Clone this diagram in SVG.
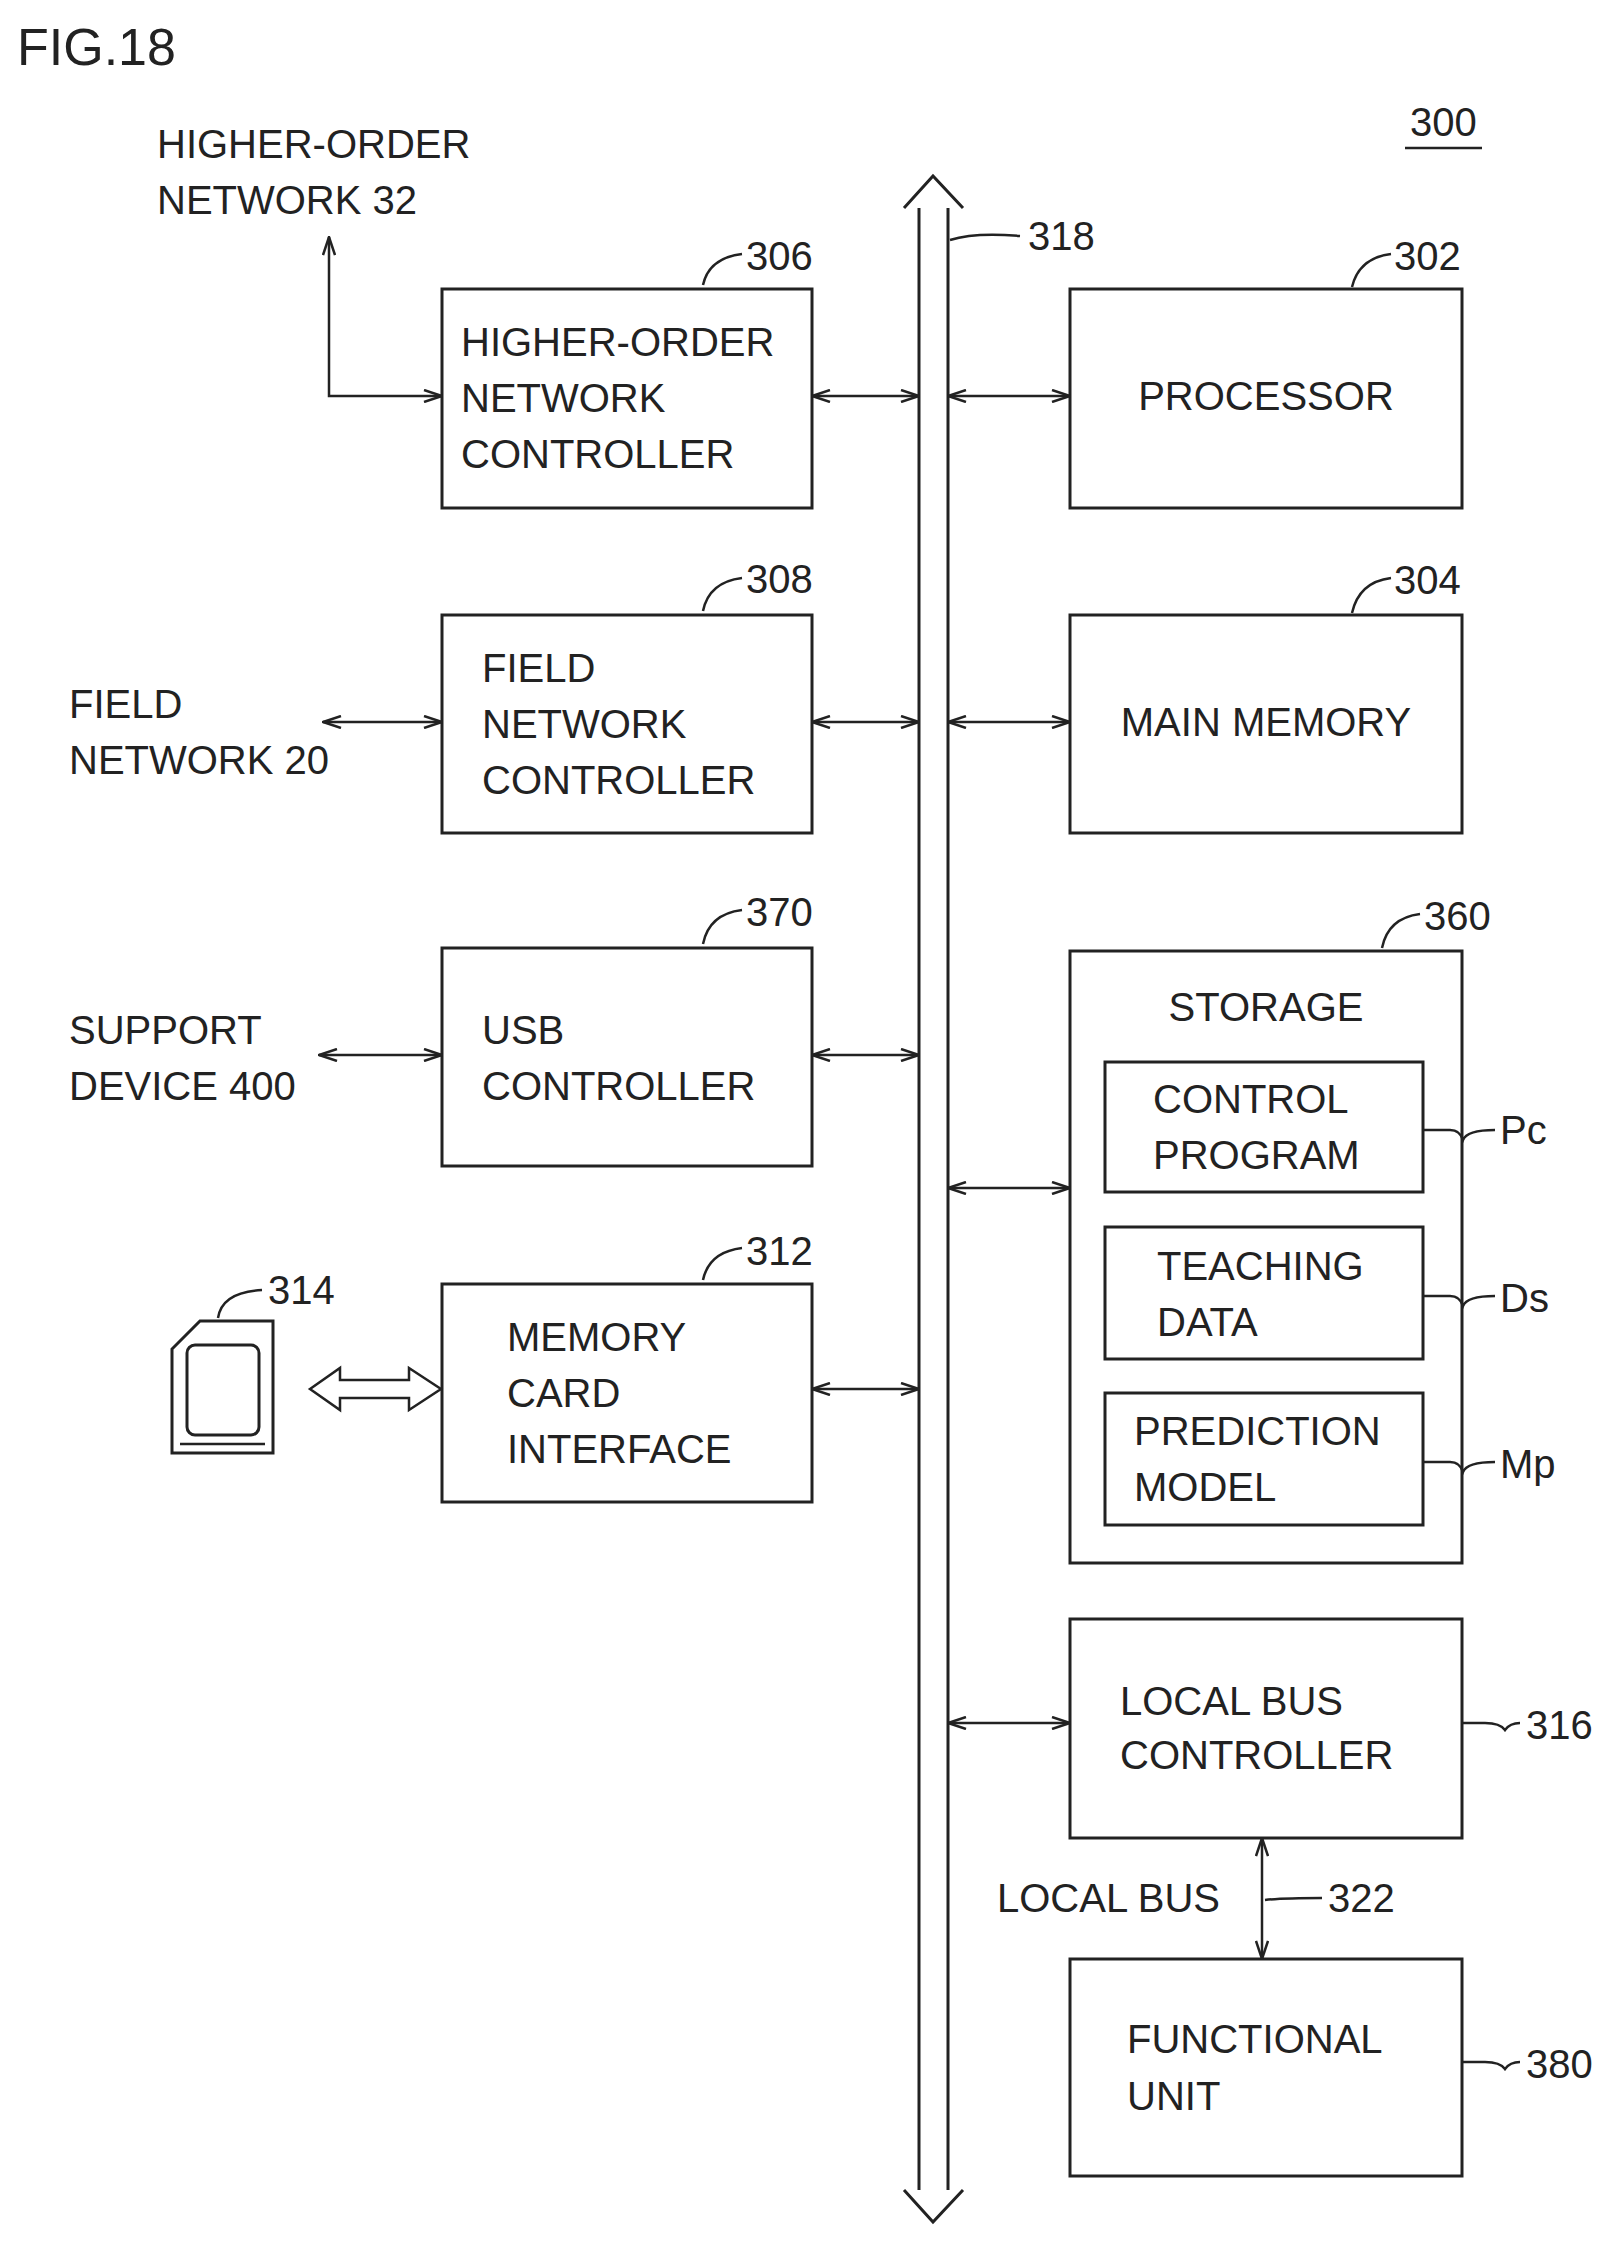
<svg xmlns="http://www.w3.org/2000/svg" width="1623" height="2268" viewBox="0 0 1623 2268">
<style>
text{font-family:"Liberation Sans",Arial,sans-serif;font-size:40px;fill:#222}
.b{fill:none;stroke:#222;stroke-width:3}
.l{fill:none;stroke:#222;stroke-width:2.5}
.m{text-anchor:middle}
</style>
<defs>
<marker id="a" viewBox="0 0 20 14" refX="19" refY="7" markerWidth="20" markerHeight="14" markerUnits="userSpaceOnUse" orient="auto-start-reverse">
<path d="M1,1 L19,7 L1,13" fill="none" stroke="#222" stroke-width="2.5"/>
</marker>
</defs>
<rect width="1623" height="2268" fill="#fff"/>
<text x="17" y="65" style="font-size:52px">FIG.18</text>
<text x="1410" y="136">300</text>
<line x1="1405" y1="148" x2="1482" y2="148" class="l"/>

<g id="bus">
<path class="b" d="M919,208 L919,2190 M948,208 L948,2190 M904,208 L933,176 L963,208 M904,2190 L933,2222 L963,2190"/>
<path class="l" d="M950,240 Q975,232 1020,236"/>
<text x="1028" y="250">318</text>
</g>

<g id="n306"><rect class="b" x="442" y="289" width="370" height="219"/>
<text x="461" y="356">HIGHER-ORDER</text><text x="461" y="412">NETWORK</text><text x="461" y="468">CONTROLLER</text>
<path class="l" d="M703,285 Q709,258 742,254"/><text x="746" y="270">306</text></g>
<g id="n302"><rect class="b" x="1070" y="289" width="392" height="219"/>
<text class="m" x="1266" y="410">PROCESSOR</text>
<path class="l" d="M1352,287 Q1359,258 1391,254"/><text x="1394" y="270">302</text></g>
<g id="n308"><rect class="b" x="442" y="615" width="370" height="218"/>
<text x="482" y="682">FIELD</text><text x="482" y="738">NETWORK</text><text x="482" y="794">CONTROLLER</text>
<path class="l" d="M703,611 Q709,582 742,578"/><text x="746" y="593">308</text></g>
<g id="n304"><rect class="b" x="1070" y="615" width="392" height="218"/>
<text class="m" x="1266" y="736">MAIN MEMORY</text>
<path class="l" d="M1352,613 Q1359,582 1391,578"/><text x="1394" y="594">304</text></g>
<g id="n370"><rect class="b" x="442" y="948" width="370" height="218"/>
<text x="482" y="1044">USB</text><text x="482" y="1100">CONTROLLER</text>
<path class="l" d="M703,944 Q709,914 742,910"/><text x="746" y="926">370</text></g>
<g id="n360"><rect class="b" x="1070" y="951" width="392" height="612"/>
<text class="m" x="1266" y="1021">STORAGE</text>
<rect class="b" x="1105" y="1062" width="318" height="130"/><text x="1153" y="1113">CONTROL</text><text x="1153" y="1169">PROGRAM</text>
<rect class="b" x="1105" y="1227" width="318" height="132"/><text x="1157" y="1280">TEACHING</text><text x="1157" y="1336">DATA</text>
<rect class="b" x="1105" y="1393" width="318" height="132"/><text x="1134" y="1445">PREDICTION</text><text x="1134" y="1501">MODEL</text>
<path class="l" d="M1423,1130 L1450,1130 Q1460,1130 1463,1140 Q1467,1130 1495,1130"/><text x="1500" y="1144">Pc</text>
<path class="l" d="M1423,1296 L1450,1296 Q1460,1296 1463,1306 Q1467,1296 1495,1296"/><text x="1500" y="1312">Ds</text>
<path class="l" d="M1423,1462 L1450,1462 Q1460,1462 1463,1472 Q1467,1462 1495,1462"/><text x="1500" y="1478">Mp</text>
<path class="l" d="M1382,948 Q1388,918 1420,914"/><text x="1424" y="930">360</text></g>
<g id="n312"><rect class="b" x="442" y="1284" width="370" height="218"/>
<text x="507" y="1351">MEMORY</text><text x="507" y="1407">CARD</text><text x="507" y="1463">INTERFACE</text>
<path class="l" d="M703,1280 Q709,1252 742,1248"/><text x="746" y="1265">312</text></g>
<g id="n314"><path class="b" d="M200,1321 L273,1321 L273,1453 L172,1453 L172,1349 Z"/>
<rect class="b" x="187" y="1345" width="72" height="90" rx="8"/>
<line class="l" x1="180" y1="1444" x2="265" y2="1444"/>
<path class="l" d="M218,1318 Q222,1292 262,1290"/><text x="268" y="1304">314</text></g>
<g id="n316"><rect class="b" x="1070" y="1619" width="392" height="219"/>
<text x="1120" y="1715">LOCAL BUS</text><text x="1120" y="1769">CONTROLLER</text>
<path class="l" d="M1462,1723 L1485,1723 Q1500,1723 1505,1730 Q1510,1723 1520,1723"/><text x="1526" y="1739">316</text></g>
<g id="n380"><rect class="b" x="1070" y="1959" width="392" height="217"/>
<text x="1127" y="2053">FUNCTIONAL</text><text x="1127" y="2110">UNIT</text>
<path class="l" d="M1462,2062 L1485,2062 Q1500,2062 1505,2069 Q1510,2062 1520,2062"/><text x="1526" y="2078">380</text></g>

<text x="157" y="158">HIGHER-ORDER</text><text x="157" y="214">NETWORK 32</text>
<text x="69" y="718">FIELD</text><text x="69" y="774">NETWORK 20</text>
<text x="69" y="1044">SUPPORT</text><text x="69" y="1100">DEVICE 400</text>
<text x="997" y="1912">LOCAL BUS</text>
<text x="1328" y="1912">322</text>

<g id="connectors">
<line class="l" x1="812" y1="396" x2="919" y2="396" marker-start="url(#a)" marker-end="url(#a)"/>
<line class="l" x1="948" y1="396" x2="1070" y2="396" marker-start="url(#a)" marker-end="url(#a)"/>
<line class="l" x1="812" y1="722" x2="919" y2="722" marker-start="url(#a)" marker-end="url(#a)"/>
<line class="l" x1="948" y1="722" x2="1070" y2="722" marker-start="url(#a)" marker-end="url(#a)"/>
<line class="l" x1="812" y1="1055" x2="919" y2="1055" marker-start="url(#a)" marker-end="url(#a)"/>
<line class="l" x1="948" y1="1188" x2="1070" y2="1188" marker-start="url(#a)" marker-end="url(#a)"/>
<line class="l" x1="812" y1="1389" x2="919" y2="1389" marker-start="url(#a)" marker-end="url(#a)"/>
<line class="l" x1="948" y1="1723" x2="1070" y2="1723" marker-start="url(#a)" marker-end="url(#a)"/>
<line class="l" x1="323" y1="722" x2="442" y2="722" marker-start="url(#a)" marker-end="url(#a)"/>
<line class="l" x1="319" y1="1055" x2="442" y2="1055" marker-start="url(#a)" marker-end="url(#a)"/>
<path class="l" d="M329,237 L329,396 L442,396" marker-start="url(#a)" marker-end="url(#a)"/>
<line class="l" x1="1262" y1="1838" x2="1262" y2="1959" marker-start="url(#a)" marker-end="url(#a)"/>
<path class="l" d="M1265,1900 Q1283,1898 1322,1898"/>
<path class="l" d="M310,1389 L340,1368 L340,1380 L409,1380 L409,1368 L441,1389 L409,1410 L409,1398 L340,1398 L340,1410 Z"/>
</g>
</svg>
